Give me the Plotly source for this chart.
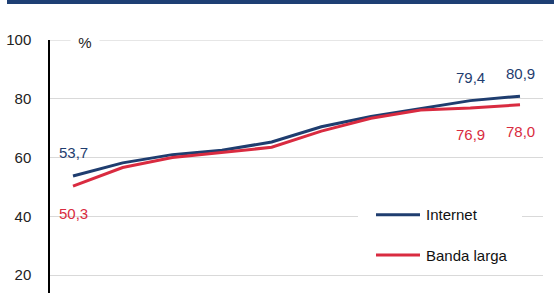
import plotly.graph_objects as go

years = [2013, 2014, 2015, 2016, 2017, 2018, 2019, 2020, 2021, 2022]
internet = [53.7, 58.2, 61.0, 62.5, 65.3, 70.5, 74.0, 76.8, 79.4, 80.9]
banda_larga = [50.3, 56.6, 60.0, 61.8, 63.5, 69.0, 73.4, 76.2, 76.9, 78.0]
y_ticks = [20, 40, 60, 80, 100]
series_names = ["Internet", "Banda larga"]

BLUE = "#1F3D6F"
RED = "#D92B40"
GRID = "#D9D9D9"
FONT = "Liberation Sans"

# pixel -> paper helpers (plot area: x 50..543, y 40..293)
def px(x):
    return (x - 50) / 493

def py(y):
    return (293 - y) / 253

fig = go.Figure()
fig.add_trace(go.Scatter(x=years, y=internet, mode="lines", name=series_names[0],
                         line=dict(color=BLUE, width=3), showlegend=False))
fig.add_trace(go.Scatter(x=years, y=banda_larga, mode="lines", name=series_names[1],
                         line=dict(color=RED, width=3), showlegend=False))

def lab(i, series, text_color, yshift):
    fig.add_annotation(x=years[i], y=series[i], text=f"{series[i]:.1f}".replace(".", ","),
                       showarrow=False, yshift=yshift, font=dict(color=text_color, size=15, family=FONT))

lab(0, internet, BLUE, 24)
lab(8, internet, BLUE, 23)
lab(9, internet, BLUE, 23)
lab(0, banda_larga, RED, -27)
lab(8, banda_larga, RED, -27)
lab(9, banda_larga, RED, -27)

# top gridline (at the plot edge)
fig.add_shape(type="line", xref="paper", yref="y", x0=0, x1=1, y0=y_ticks[-1], y1=y_ticks[-1],
              line=dict(color=GRID, width=1), layer="below")

fig.add_annotation(xref="paper", yref="y", x=px(70), y=100, yshift=-2,
                   text="%", showarrow=False, bgcolor="white", width=26,
                   font=dict(color="#222222", size=15, family=FONT))

# top banner
fig.add_shape(type="rect", xref="paper", yref="paper",
              x0=px(7), x1=px(554), y0=py(4), y1=py(0),
              fillcolor="#1E3F74", line=dict(width=0), layer="above")

# custom legend
fig.add_shape(type="rect", xref="paper", yref="paper",
              x0=px(358), x1=px(522), y0=py(268), y1=py(200),
              fillcolor="white", line=dict(width=0), layer="above")
for name, color, yc in [(series_names[0], BLUE, 214.7), (series_names[1], RED, 255)]:
    fig.add_shape(type="line", xref="paper", yref="paper",
                  x0=px(376), x1=px(420), y0=py(yc), y1=py(yc),
                  line=dict(color=color, width=3), layer="above")
    fig.add_annotation(xref="paper", yref="paper", x=px(424), y=py(yc),
                       xanchor="left", yanchor="middle", text=name, showarrow=False,
                       font=dict(color="#111111", size=15, family=FONT))

x_pad = 23 / 49.67
fig.update_layout(
    width=560, height=293,
    margin=dict(l=50, r=17, t=40, b=0),
    paper_bgcolor="white", plot_bgcolor="white",
    font=dict(family=FONT, size=15, color="#222222"),
    showlegend=False,
    xaxis=dict(range=[years[0] - x_pad, years[-1] + x_pad], visible=False),
    yaxis=dict(range=[13.87, 100.05], tickvals=y_ticks, showgrid=True, gridcolor=GRID,
               gridwidth=1, showline=True, linecolor="black", linewidth=1.5,
               ticks="", ticklabelstandoff=14, zeroline=False,
               tickfont=dict(size=15, color="#222222", family=FONT)),
)

fig.write_html("out.html")
